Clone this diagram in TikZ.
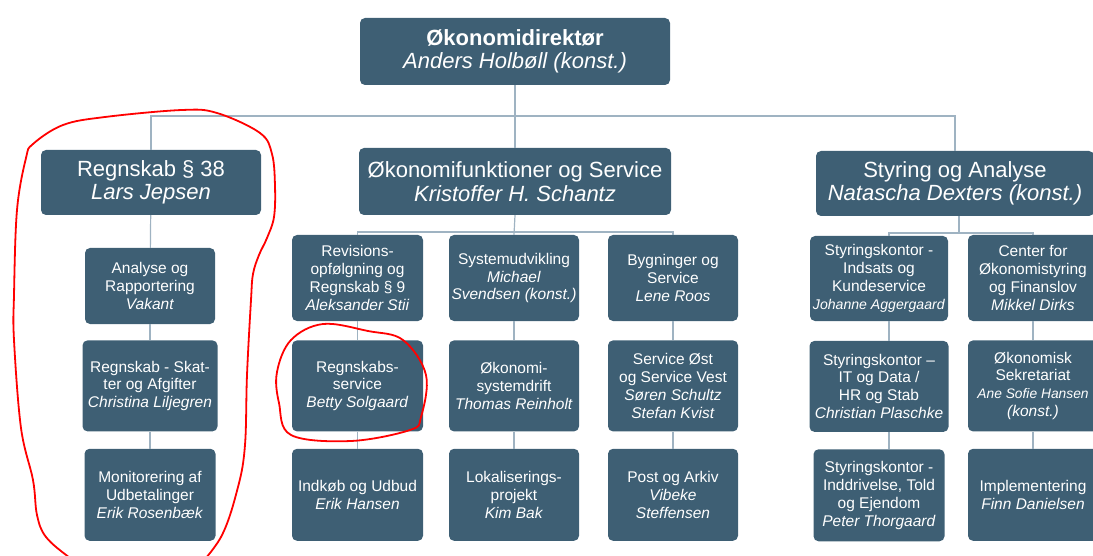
\documentclass[tikz,border=0pt]{standalone}
\usepackage{fontspec}
\setmainfont{Liberation Sans}
\usetikzlibrary{positioning}

\definecolor{boxfill}{HTML}{3E5F74}
\definecolor{linkline}{HTML}{9FB3C2}
\newcommand{\leadfont}{\fontsize{22}{23.5}\selectfont}
\newcommand{\unitfont}{\fontsize{15.5}{17.9}\selectfont}

\begin{document}
\begin{tikzpicture}[x=1pt,y=-1pt,
    leadbox/.style={rectangle, rounded corners=5pt, fill=boxfill, text=white, align=center, inner sep=0pt, font=\leadfont},
    unitbox/.style={rectangle, rounded corners=5pt, fill=boxfill, text=white, align=center, inner sep=0pt, minimum width=130pt, font=\unitfont},
    orgline/.style={draw=linkline, line width=1.2pt},
    pen/.style={draw=red, line width=1.8pt, line cap=round, line join=round},]
    \useasboundingbox (0,0) rectangle (1093,556);
    \clip (0,0) rectangle (1093,556);
    % top nodes
    \node[leadbox, minimum width=310pt, minimum height=67pt] (dir)    at (515,51.5)  {\textbf{Økonomidirektør}\\\textit{Anders Holbøll (konst.)}};
    \node[leadbox, minimum width=220pt, minimum height=65pt] (regn38) at (151,182.5) {Regnskab § 38\\\textit{Lars Jepsen}};
    \node[leadbox, minimum width=312pt, minimum height=67pt] (okfun)  at (515,181.5) {Økonomifunktioner og Service\\\textit{Kristoffer H. Schantz}};
    \node[leadbox, minimum width=278pt, minimum height=65pt] (styr)   at (955,183.5) {Styring og Analyse\\\textit{Natascha Dexters (konst.)}};
    % first row
    \node[unitbox, minimum height=76pt]                    (analyse)     at (150,286)   {Analyse og\\Rapportering\\\textit{Vakant}};
    \node[unitbox, minimum width=131pt, minimum height=86pt] (revision)  at (357.5,278) {Revisions-\\opfølgning og\\Regnskab § 9\\\textit{Aleksander Stii}};
    \node[unitbox, minimum height=86pt]                    (systemudv)   at (514,278)   {Systemudvikling\\\textit{Michael}\\\textit{Svendsen (konst.)}};
    \node[unitbox, minimum height=86pt]                    (bygning)     at (673,278)   {Bygninger og\\Service\\\textit{Lene Roos}};
    \node[unitbox, minimum width=138pt, minimum height=85pt] (styrindsats) at (879,278.5) {Styringskontor -\\Indsats og\\Kundeservice\\{\fontsize{14.1}{17.9}\selectfont\textit{Johanne Aggergaard}}};
    \node[unitbox, minimum height=86pt]                    (center)      at (1033,278)  {Center for\\Økonomistyring\\og Finanslov\\\textit{Mikkel Dirks}};
    % second row
    \node[unitbox, minimum width=135pt, minimum height=91pt] (skat)     [below=16pt of analyse]     {Regnskab - Skat-\\ter og Afgifter\\\textit{Christina Liljegren}};
    \node[unitbox, minimum width=131pt, minimum height=91pt] (regnserv) [below=19pt of revision]    {Regnskabs-\\service\\\textit{Betty Solgaard}};
    \node[unitbox, minimum height=91pt]                    (okosys)     [below=19pt of systemudv]   {Økonomi-\\systemdrift\\\textit{Thomas Reinholt}};
    \node[unitbox, minimum height=91pt]                    (ostvest)    [below=19pt of bygning]     {Service Øst\\og Service Vest\\\textit{Søren Schultz}\\\textit{Stefan Kvist}};
    \node[unitbox, minimum width=139pt, minimum height=91pt] (styrit)   [below=19.5pt of styrindsats] {Styringskontor –\\IT og Data /\\HR og Stab\\\textit{Christian Plaschke}};
    \node[unitbox, minimum height=91pt]                    (sekr)       [below=19pt of center]      {Økonomisk\\Sekretariat\\{\fontsize{13.8}{17.9}\selectfont\textit{Ane Sofie Hansen}}\\\textit{(konst.)}};
    % third row
    \node[unitbox, minimum width=131pt, minimum height=92pt] (monitor)  [below=17pt of skat]     {Monitorering af\\Udbetalinger\\\textit{Erik Rosenbæk}};
    \node[unitbox, minimum width=131pt, minimum height=92pt] (indkob)   [below=17pt of regnserv] {Indkøb og Udbud\\\textit{Erik Hansen}};
    \node[unitbox, minimum height=92pt]                    (lokal)      [below=17pt of okosys]   {Lokaliserings-\\projekt\\\textit{Kim Bak}};
    \node[unitbox, minimum height=92pt]                    (post)       [below=17pt of ostvest]  {Post og Arkiv\\\textit{Vibeke}\\\textit{Steffensen}};
    \node[unitbox, minimum width=131pt, minimum height=92pt] (styrinddr) [below=17pt of styrit]  {Styringskontor -\\Inddrivelse, Told\\og Ejendom\\\textit{Peter Thorgaard}};
    \node[unitbox, minimum height=92pt]                    (impl)       [below=17pt of sekr]     {Implementering\\\textit{Finn Danielsen}};
    % bus points
    \coordinate (topbus) at (515,116);
    \coordinate (okbus)  at (515,232);
    \coordinate (stbus)  at (959,233);
    % lines
    \draw[orgline] (dir.south) -- (okfun.north);
    \draw[orgline] (regn38.north) |- (topbus) -| (styr.north);
    \draw[orgline] (okfun.south) -- (systemudv.north);
    \draw[orgline] (revision.north) |- (okbus) -| (bygning.north);
    \draw[orgline] ([xshift=4pt]styr.south) -- ([xshift=4pt]styr.south |- stbus);
    \draw[orgline] ([xshift=10pt]styrindsats.north) |- (stbus) -| (center.north);
    \draw[orgline] (regn38) -- (analyse);
    \draw[orgline] (analyse) -- (skat);
    \draw[orgline] (skat) -- (monitor);
    \draw[orgline] (revision) -- (regnserv);
    \draw[orgline] (regnserv) -- (indkob);
    \draw[orgline] (systemudv) -- (okosys);
    \draw[orgline] (okosys) -- (lokal);
    \draw[orgline] (bygning) -- (ostvest);
    \draw[orgline] (ostvest) -- (post);
    \draw[orgline] ([xshift=10pt]styrindsats.south) -- ([xshift=10pt]styrit.north);
    \draw[orgline] ([xshift=10pt]styrit.south) -- ([xshift=10pt]styrinddr.north);
    \draw[orgline] (center) -- (sekr);
    \draw[orgline] (sekr) -- (impl);
    % red pen marks
    \draw[pen] plot[smooth, tension=0.6] coordinates {(95,575) (70,558) (46,537) (37,515) (33,480) (21,428) (14,340) (14,295) (17,210) (26,158) (33,144) (63,125) (105,117) (182,110) (217,113) (260,133) (272,154) (275,186) (274,217) (267,238) (259,255) (253,274) (251,300) (247,375) (245,445) (238,487) (221,537) (191,575)};
    \draw[pen] plot[smooth cycle, tension=0.6] coordinates {(323,324) (368,331) (403,340) (426,375) (421,417) (410,430) (351,441) (291,435) (279,403) (277,372) (291,340)};
\end{tikzpicture}
\end{document}
